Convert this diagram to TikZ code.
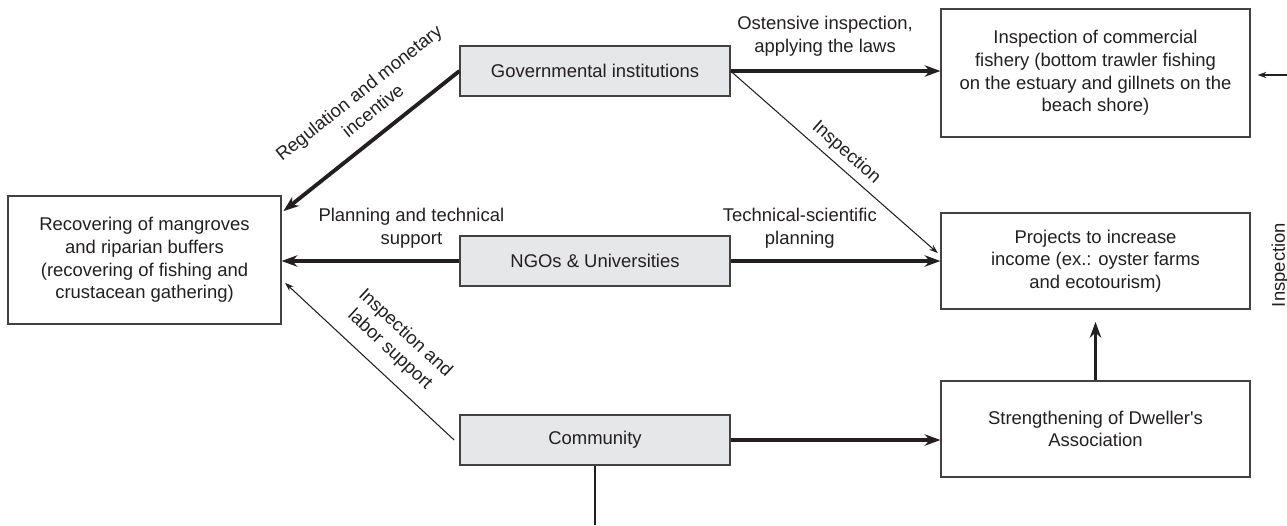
\documentclass[tikz,border=0pt]{standalone}
\usepackage{fontspec}
\setmainfont{Liberation Sans}
\usetikzlibrary{arrows.meta}
\definecolor{boxgray}{HTML}{E6E7E8}
\definecolor{ink}{HTML}{231F20}
\tikzstyle{block}=[draw=ink!85,line width=0.7pt,align=center,text=ink,inner sep=2pt]
\tikzstyle{actor}=[block,fill=boxgray,minimum width=5.4cm,minimum height=1cm]
\tikzstyle{target}=[block,minimum width=6.18cm,minimum height=1.92cm]
\tikzstyle{lbl}=[text=ink,align=center]
\tikzstyle{strong}=[draw=ink,line width=2.2pt,-{Stealth[length=9pt,width=6.5pt]}]
\tikzstyle{weak}=[draw=ink,line width=0.6pt,-{Stealth[length=5pt,width=3.5pt]}]

\begin{document}
\begin{tikzpicture}[x=0.02cm,y=-0.02cm,font=\fontsize{10.5}{12.9}\selectfont]
\useasboundingbox (0,0) rectangle (1287,525);
\node[actor] (Gov) at (595,71) {Governmental institutions};
\node[actor] (Ngo) at (595,261) {NGOs \& Universities};
\node[actor] (Com) at (595,440) {Community};
\node[block,minimum width=5.46cm,minimum height=2.56cm] (Rec) at (144.5,260)
  {Recovering of mangroves\\and riparian buffers\\(recovering of fishing and\\crustacean gathering)};
\node[target,minimum height=2.56cm] (Fish) at (1095.5,73)
  {Inspection of commercial\\fishery (bottom trawler fishing\\on the estuary and gillnets on the\\beach shore)};
\node[target] (Proj) at (1095.5,261) {Projects to increase\\income (ex.: oyster farms\\and ecotourism)};
\node[target] (Dwell) at (1095.5,429) {Strengthening of Dweller\textquotesingle s\\Association};
\node[lbl,rotate=90] (Insp) at (1280,265) {Inspection};
\coordinate (Edge) at (1287,75);
\coordinate (Down) at (597,525);
% governmental institutions
\draw[strong] (Gov.west) -- node[lbl,sloped,above=5pt,pos=0.41]{Regulation and monetary\\incentive} ([xshift=1pt,yshift=-9pt]Rec.north east);
\draw[strong] (Gov.east) -- node[lbl,above,pos=0.45,yshift=4pt]{Ostensive inspection,\\applying the laws} (Gov.east -| Fish.west);
\draw[weak] (Gov.east) -- node[lbl,sloped,above,pos=0.51]{Inspection} ([xshift=-1.5pt,yshift=4.5pt]Proj.west);
% NGOs
\draw[strong] (Ngo.west) -- node[lbl,above,pos=0.27,yshift=3pt]{Planning and technical\\support} (Ngo.west -| Rec.east);
\draw[strong] (Ngo.east) -- node[lbl,above,pos=0.33,yshift=3pt]{Technical-scientific\\planning} (Ngo.east -| Proj.west);
% community
\draw[weak] ([xshift=-3pt]Com.west) -- node[lbl,sloped,above=4pt,pos=0.47]{Inspection and\\labor support} ([xshift=2pt,yshift=-13pt]Rec.east);
\draw[strong] (Com.east) -- (Com.east -| Dwell.west);
\draw[draw=ink,line width=0.6pt] (Com.south) -- (Com.south |- Down);
\draw[strong,shorten >=7pt] (Dwell.north) -- (Proj.south);
\draw[weak,shorten >=4pt] (Edge) -- (Edge -| Fish.east);
\end{tikzpicture}
\end{document}
